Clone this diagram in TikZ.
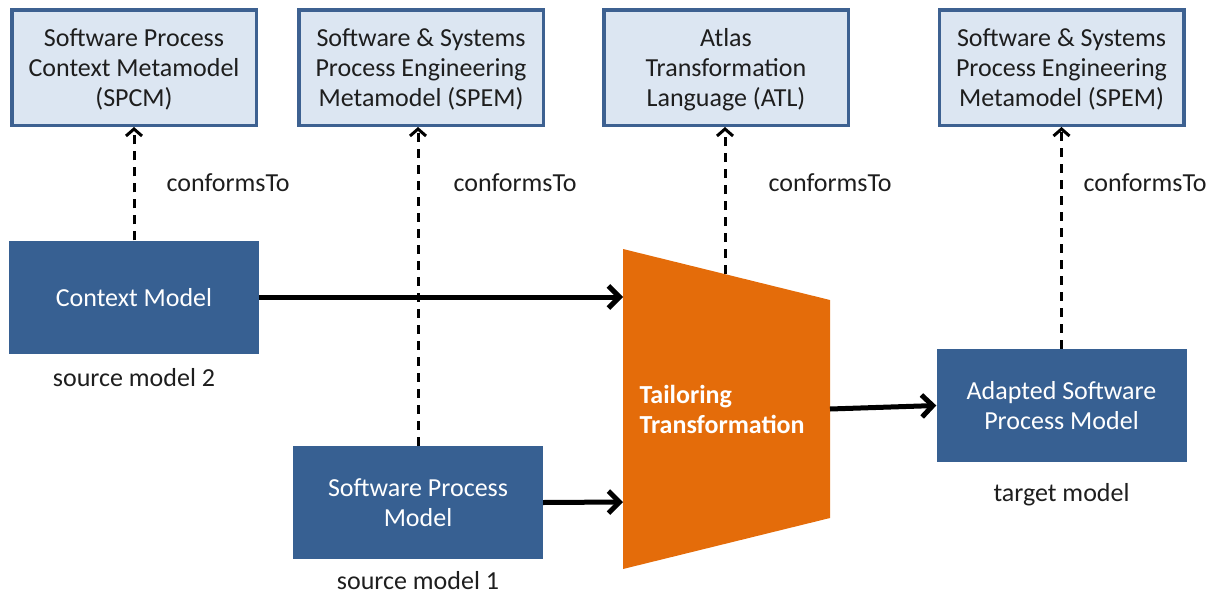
\documentclass[tikz,border=0pt]{standalone}
\usepackage{fontspec}
\setmainfont{Carlito}
\usetikzlibrary{arrows.meta,positioning}

\definecolor{metafill}{HTML}{DCE6F2}
\definecolor{metadraw}{HTML}{3D6191}
\definecolor{modelfill}{HTML}{376092}
\definecolor{trafofill}{HTML}{E46C0A}
\definecolor{txt}{HTML}{1E1E1E}

\begin{document}
\begin{tikzpicture}[x=1pt, y=-1pt,
    meta/.style={draw=metadraw, fill=metafill, line width=3.5pt, minimum width=244.5pt,
      minimum height=115.5pt, text depth=0pt, align=center, text=txt,
      font=\fontsize{26}{30}\selectfont},
    model/.style={fill=modelfill, minimum width=250pt, minimum height=113pt, text depth=0pt,
      align=center, text=white, font=\fontsize{26}{30}\selectfont},
    conf/.style={dash pattern=on 9pt off 7pt, line width=3pt,
      -{Straight Barb[length=7pt,width=16pt]}},
    flow/.style={line width=5pt, -{Straight Barb[length=11pt,width=22pt]}},
    lbl/.style={text=txt, font=\fontsize{26}{30}\selectfont}]
    \useasboundingbox (0,0) rectangle (1220,597);

    % metamodels
    \node[meta] (spcm) at (134,67.5) {Software Process\\Context Metamodel\\(SPCM)};
    \node[meta] (spem1) at (421,67.5) {Software \& Systems\\Process Engineering\\Metamodel (SPEM)};
    \node[meta] (atl) at (726,67.5) {Atlas\\Transformation\\Language (ATL)};
    \node[meta] (spem2) at (1061.5,67.5) {Software \& Systems\\Process Engineering\\Metamodel (SPEM)};

    % models
    \node[model] (ctx) at (134,297) {Context Model};
    \node[model] (spm) at (418,502.5) {Software Process\\Model};
    \node[model] (adapted) at (1061.5,405.5) {Adapted Software\\Process Model};

    \node[lbl, below=11pt of ctx] (src2) {source model 2};
    \node[lbl, below=9pt of spm] (src1) {source model 1};
    \node[lbl, below=18pt of adapted] (tgt) {target model};

    % transformation
    \coordinate (tl) at (623,249);
    \coordinate (tr) at (830,300);
    \coordinate (br) at (830,518);
    \coordinate (bl) at (623,569);
    \fill[trafofill] (tl) -- (tr) -- (br) -- (bl) -- cycle;
    \node[anchor=west, align=left, text=white, font=\fontsize{26}{30}\selectfont\bfseries]
      (trafo) at (636,409) {Tailoring\\Transformation};
    \coordinate (in2) at (623,297);
    \coordinate (in1) at (623,502);
    \coordinate (out) at (830,409);
    \coordinate (ttop) at (725,274);

    % conformsTo links
    \draw[conf] (ctx.north) -- (spcm.south);
    \draw[conf] (spm.north) -- (spm.north |- spem1.south);
    \draw[conf] (ttop) -- (ttop |- atl.south);
    \draw[conf] (adapted.north) -- (spem2.south);
    \foreach \x/\n in {163/c1,450/c2,765/c3,1080/c4}
      \node[lbl, anchor=west] (\n) at (\x,183) {conformsTo};

    % data flow
    \draw[flow] (ctx.east) -- (in2);
    \draw[flow] (spm.east) -- (in1);
    \draw[flow] (out) -- (adapted.west);
\end{tikzpicture}
\end{document}
